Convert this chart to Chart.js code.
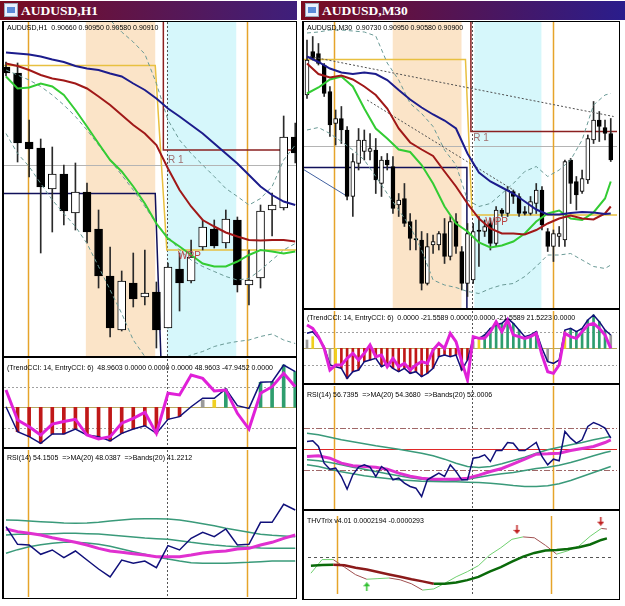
<!DOCTYPE html>
<html>
<head>
<meta charset="utf-8">
<script src="https://cdn.jsdelivr.net/npm/chart.js@4.4.1/dist/chart.umd.min.js"></script>
<style>
  body { margin: 0; width: 625px; height: 606px; background: #fff; position: relative; overflow: hidden; font-family: "Liberation Sans", Arial, sans-serif; }
  .title { position: absolute; top: 1px; height: 19px; color: #fff; font: bold 13.5px "Liberation Serif", serif; line-height: 20px; box-sizing: border-box; }
  .icon { position: absolute; top: 3px; width: 12px; height: 12px; background: #e8f0ff; border: 1px solid #9ab; }
  .icon:after { content: ""; position: absolute; left: 2px; top: 3px; width: 8px; height: 6px; background: #5a8ad8; }
  .frame { position: absolute; border: 1px solid #000; border-left-width: 2px; box-sizing: border-box; }
  .sep { position: absolute; height: 2px; background: #000; }
  .hdr { position: absolute; font-size: 7px; line-height: 8px; white-space: pre; color: #000; z-index: 5; }
  canvas { position: absolute; }
</style>
</head>
<body>

<div class="title" style="left:0;width:297px;background:linear-gradient(to right,#7a0c20,#3e1f7c);padding-left:21px">AUDUSD,H1</div>
<div class="icon" style="left:4px"></div>
<div class="title" style="left:301px;width:324px;background:linear-gradient(to right,#7a0c20,#2a1d8c);padding-left:21px">AUDUSD,M30</div>
<div class="icon" style="left:305px"></div>

<div class="frame" style="left:2px;top:21px;width:295px;height:578px"></div>
<div class="frame" style="left:302px;top:21px;width:318px;height:579px"></div>

<div class="sep" style="left:2px;top:356px;width:295px"></div>
<div class="sep" style="left:2px;top:447px;width:295px"></div>
<div class="sep" style="left:302px;top:308px;width:318px"></div>
<div class="sep" style="left:302px;top:383px;width:318px"></div>
<div class="sep" style="left:302px;top:509px;width:318px"></div>

<div class="hdr" style="left:7px;top:24px">AUDUSD,H1  0.90660 0.90950 0.90580 0.90910</div>
<div class="hdr" style="left:307px;top:24px">AUDUSD,M30  0.90730 0.90950 0.90580 0.90900</div>
<div class="hdr" style="left:7px;top:364px">(TrendCCI: 14, EntryCCI: 6)  48.9603 0.0000 0.0000 0.0000 48.9603 -47.9452 0.0000</div>
<div class="hdr" style="left:307px;top:314px">(TrendCCI: 14, EntryCCI: 6)  0.0000 -21.5589 0.0000 0.0000 -21.5589 21.5223 0.0000</div>
<div class="hdr" style="left:7px;top:454px">RSI(14) 54.1505  =&gt;MA(20) 48.0387  =&gt;Bands(20) 41.2212</div>
<div class="hdr" style="left:307px;top:391px">RSI(14) 56.7395  =&gt;MA(20) 54.3680  =&gt;Bands(20) 52.0006</div>
<div class="hdr" style="left:307px;top:517px">THVTrix v4.01 0.0002194 -0.0000293</div>

<script>
// ---- AUDUSD H1 (janela esquerda) ----
const h1Open  = [0.91056,0.91044,0.90906,0.90894,0.90812,0.90842,0.90764,0.90806,0.90732,0.90638,0.90530,0.90624,0.90596,0.90606,0.90534,0.90652,0.90628,0.90696,0.90732,0.90704,0.90750,0.90620,0.90634,0.90770,0.90774,0.90916];
const h1High  = [0.91066,0.91064,0.90950,0.90912,0.90896,0.90860,0.90864,0.90824,0.90770,0.90696,0.90648,0.90684,0.90690,0.90626,0.90664,0.90684,0.90710,0.90750,0.90750,0.90770,0.90756,0.90690,0.90780,0.90804,0.90958,0.90944];
const h1Low   = [0.91038,0.90866,0.90836,0.90684,0.90726,0.90740,0.90730,0.90704,0.90614,0.90516,0.90528,0.90576,0.90580,0.90494,0.90534,0.90568,0.90624,0.90690,0.90694,0.90694,0.90606,0.90580,0.90614,0.90718,0.90770,0.90864];
const h1Close = [0.91044,0.90904,0.90892,0.90816,0.90842,0.90768,0.90806,0.90726,0.90638,0.90534,0.90628,0.90592,0.90604,0.90530,0.90656,0.90624,0.90676,0.90736,0.90698,0.90752,0.90620,0.90630,0.90768,0.90780,0.90916,0.90884];
const h1MaBlue  = [0.91085,0.91083,0.91081,0.91077,0.91071,0.91066,0.91058,0.91053,0.91050,0.91043,0.91037,0.91023,0.91010,0.90993,0.90973,0.90957,0.90940,0.90923,0.90903,0.90883,0.90863,0.90840,0.90817,0.90800,0.90787,0.90780];
const h1MaRed   = [0.91063,0.91058,0.91050,0.91040,0.91033,0.91029,0.91023,0.91013,0.90997,0.90980,0.90960,0.90940,0.90923,0.90900,0.90853,0.90810,0.90777,0.90750,0.90737,0.90725,0.90717,0.90710,0.90709,0.90710,0.90710,0.90707];
const h1MaGreen = [0.91037,0.91013,0.91015,0.91023,0.91017,0.91000,0.90970,0.90937,0.90903,0.90870,0.90847,0.90817,0.90783,0.90743,0.90713,0.90697,0.90680,0.90663,0.90657,0.90657,0.90667,0.90680,0.90690,0.90687,0.90683,0.90687];
const h1BandUp  = [0.91170,0.91180,0.91190,0.91200,0.91210,0.91210,0.91200,0.91186,0.91170,0.91150,0.91126,0.91106,0.91082,0.91023,0.90950,0.90910,0.90883,0.90860,0.90837,0.90813,0.90797,0.90780,0.90793,0.90817,0.90870,0.90900];
const h1BandMid = [0.91050,0.91040,0.91030,0.91017,0.91000,0.90980,0.90957,0.90930,0.90900,0.90870,0.90840,0.90810,0.90777,0.90743,0.90717,0.90690,0.90670,0.90657,0.90647,0.90637,0.90630,0.90633,0.90650,0.90670,0.90690,0.90703];
const h1BandLow = [0.90923,0.90883,0.90857,0.90823,0.90790,0.90763,0.90737,0.90703,0.90657,0.90610,0.90563,0.90510,0.90477,0.90458,0.90450,0.90470,0.90480,0.90487,0.90497,0.90503,0.90507,0.90510,0.90517,0.90522,0.90510,0.90503];
const h1Pivot = [[-0.5,0.90803],[12.9,0.90803],[13.5,0.90400]];
const h1Wpp   = [[-0.5,0.91059],[12.9,0.91059],[13.9,0.90690],[25.5,0.90690]];
const h1R1    = [[13.6,0.91250],[13.6,0.90890],[25.5,0.90890]];
const h1GrayLevel = 0.90860;
const h1Peach = [6.9, 12.9];
const h1Cyan  = [13.9, 19.9];
const h1Orange = [1.9, 20.8];
const h1DayLine = 13.9;

const h1TrendCci = [3,-118,-142,-174,-129,-129,-105,-134,-142,-163,-126,-105,-89,-126,-58,-45,3,44,44,89,8,-5,121,124,205,173];
const h1EntryCci = [84,-61,-94,-134,-81,-69,-58,-134,-153,-142,-77,-53,-24,-126,68,60,156,140,79,84,-29,-105,68,100,165,100];
const h1Hist     = [null,-118,-142,-174,-129,-129,-105,-134,-142,-163,-126,-105,-89,-126,-58,-45,null,35,35,89,null,null,121,124,205,173];
const h1HistCol  = 'nrrrrrrrrrrrrrrrnsygnngggg'.split('');

const h1Rsi     = [50.08,45.76,45.6,43.32,44.38,42.5,44.13,41.93,39.73,37.78,41.93,41.12,41.69,40.06,45.44,44.38,47.23,48.7,47.64,49.51,45.6,45.76,51.14,51.14,55.54,54.15];
const h1RsiMa   = [49.51,48.86,48.45,48.04,47.39,46.82,46.25,45.6,44.78,44.13,43.81,43.48,43.15,42.75,42.75,42.75,43.15,43.64,43.97,44.13,44.62,44.78,45.6,46.25,47.23,48.04];
const h1RsiUp   = [51.71,51.63,51.46,51.30,51.14,50.98,50.89,50.98,51.14,51.46,51.71,51.95,52.04,52.04,51.95,51.71,51.30,50.81,50.32,49.67,49.18,48.69,48.21,47.96,47.80,47.63];
const h1RsiMid  = [48.04,48.21,48.21,48.29,48.37,48.45,48.45,48.37,48.29,48.04,47.80,47.55,47.31,47.15,46.98,46.66,46.25,45.92,45.6,45.36,45.19,45.03,44.87,44.78,44.78,44.78];
const h1RsiLow  = [43.56,44.46,45.19,45.68,46.01,46.25,46.25,46.09,45.76,45.27,44.62,43.97,43.32,42.67,42.18,41.69,41.28,41.12,41.12,41.12,41.28,41.36,41.53,41.69,41.69,41.69];

// ---- AUDUSD M30 (janela direita) ----
const m30Open  = [0.91010,0.91097,0.91093,0.91070,0.91017,0.90953,0.90963,0.90940,0.90807,0.90873,0.90897,0.90897,0.90900,0.90833,0.90880,0.90867,0.90790,0.90803,0.90757,0.90723,0.90720,0.90633,0.90710,0.90710,0.90733,0.90687,0.90757,0.90697,0.90633,0.90640,0.90740,0.90737,0.90753,0.90713,0.90780,0.90773,0.90817,0.90807,0.90777,0.90773,0.90793,0.90820,0.90737,0.90707,0.90727,0.90720,0.90880,0.90837,0.90817,0.90840,0.90920,0.90960,0.90945,0.90933];
const m30High  = [0.91120,0.91127,0.91113,0.91073,0.91027,0.90980,0.90987,0.90947,0.90893,0.90943,0.90940,0.90933,0.90923,0.90887,0.90893,0.90887,0.90813,0.90833,0.90773,0.90760,0.90737,0.90733,0.90730,0.90737,0.90763,0.90767,0.90773,0.90707,0.90753,0.90753,0.90767,0.90760,0.90763,0.90787,0.90783,0.90827,0.90820,0.90813,0.90787,0.90807,0.90833,0.90827,0.90743,0.90740,0.90747,0.90880,0.90883,0.90847,0.90860,0.90930,0.90997,0.90977,0.90960,0.90963];
const m30Low   = [0.91003,0.91080,0.91070,0.91007,0.90927,0.90910,0.90913,0.90800,0.90767,0.90860,0.90880,0.90880,0.90813,0.90807,0.90860,0.90773,0.90767,0.90747,0.90700,0.90700,0.90620,0.90630,0.90693,0.90700,0.90673,0.90680,0.90693,0.90620,0.90607,0.90633,0.90667,0.90727,0.90700,0.90707,0.90767,0.90767,0.90793,0.90767,0.90770,0.90770,0.90773,0.90740,0.90697,0.90677,0.90707,0.90707,0.90793,0.90780,0.90813,0.90833,0.90913,0.90917,0.90920,0.90877];
const m30Close = [0.91080,0.91083,0.91073,0.91013,0.90950,0.90963,0.90940,0.90807,0.90877,0.90920,0.90920,0.90903,0.90840,0.90880,0.90870,0.90783,0.90800,0.90753,0.90723,0.90720,0.90633,0.90707,0.90717,0.90733,0.90687,0.90757,0.90707,0.90633,0.90733,0.90737,0.90737,0.90747,0.90713,0.90780,0.90773,0.90820,0.90807,0.90773,0.90773,0.90797,0.90820,0.90750,0.90707,0.90733,0.90733,0.90877,0.90833,0.90810,0.90843,0.90923,0.90960,0.90947,0.90933,0.90880];
// linhas lidas a cada 2 barras
const m30Samp    = [0,2,4,6,8,10,12,14,16,18,20,22,24,26,28,30,32,34,36,38,40,42,44,46,48,50,52,53];
const m30MaBlue  = [0.91087,0.91076,0.91063,0.91055,0.91052,0.91055,0.91052,0.91040,0.91020,0.91001,0.90985,0.90971,0.90959,0.90943,0.90893,0.90855,0.90837,0.90825,0.90813,0.90797,0.90781,0.90771,0.90771,0.90774,0.90776,0.90775,0.90772,0.90773];
const m30MaRed   = [0.91073,0.91052,0.91045,0.91049,0.91041,0.91027,0.91010,0.90983,0.90943,0.90915,0.90901,0.90888,0.90857,0.90827,0.90793,0.90763,0.90743,0.90733,0.90733,0.90731,0.90740,0.90753,0.90763,0.90769,0.90763,0.90761,0.90773,0.90787];
const m30MaGreen = [0.91013,0.91025,0.91041,0.91047,0.91027,0.90983,0.90943,0.90923,0.90901,0.90896,0.90870,0.90833,0.90787,0.90753,0.90737,0.90715,0.90705,0.90709,0.90717,0.90733,0.90757,0.90773,0.90779,0.90763,0.90760,0.90775,0.90803,0.90837];
const m30BandUp  = [0.91134,0.91136,0.91140,0.91140,0.91138,0.91136,0.91128,0.91074,0.91040,0.90993,0.90973,0.90947,0.90900,0.90870,0.90800,0.90787,0.90793,0.90813,0.90833,0.90857,0.90867,0.90847,0.90860,0.90880,0.90920,0.90990,0.91010,0.91013];
const m30BandLow = [0.90940,0.90945,0.90933,0.90917,0.90900,0.90880,0.90847,0.90813,0.90780,0.90747,0.90700,0.90640,0.90630,0.90625,0.90617,0.90613,0.90623,0.90630,0.90633,0.90647,0.90667,0.90690,0.90690,0.90693,0.90680,0.90667,0.90663,0.90670];
const m30TrendHi  = [[0.5,0.91087],[53.5,0.90967]];
const m30TrendLo  = [[10.5,0.91000],[36,0.90820]];
const m30TrendOld = [[-0.6,0.90861],[7.07,0.90807]];
const m30Pivot = [[-0.6,0.90865],[27.9,0.90865],[27.9,0.90500]];
const m30Wpp   = [[-0.6,0.91081],[27.65,0.91081],[28.8,0.90770],[54.2,0.90770]];
const m30R1    = [[28.6,0.91250],[28.6,0.90937],[54.2,0.90937]];
const m30GrayLevel = 0.90908;
const m30Peach = [14.96, 26.96];
const m30Cyan  = [29.2, 40.9];
const m30Orange = [4.7, 42.96];
const m30DayLine = 28.8;

const m30TrendCci = [90,100,60,10,-100,-110,-120,-180,-140,-130,-80,-70,-60,-110,-90,-120,-140,-120,-150,-140,-170,-150,-120,-50,-40,-50,-40,-130,-70,60,60,80,120,140,150,180,150,110,70,80,100,0,-80,-90,-70,110,120,100,120,170,200,160,110,80];
const m30EntryCci = [140,120,70,0,-130,-100,-100,-60,-30,-70,-30,20,-50,-40,-110,-60,-110,-90,-130,-100,-80,-90,-10,30,0,90,40,-80,-190,70,60,60,100,160,100,170,80,70,60,70,90,-40,-140,-150,-100,90,70,60,100,140,150,120,80,0];
const m30Hist     = [50,70,null,null,-100,-110,-120,-180,-140,-130,-80,-70,-60,-110,-90,-120,-140,-120,-150,-140,-170,-150,-120,-50,-40,-50,-40,-130,-70,40,60,80,120,140,150,180,150,110,70,80,100,null,-80,-90,null,100,120,100,120,170,200,160,110,80];
const m30HistCol  = 'synnsyrrrrrrrrrrrrrrrrrrrrrrrsyggggggggggnsnyyggggggg'.split('');

const m30Rsi    = [53.6,53.92,51.2,43.2,40.32,40.8,36.8,30.72,37.6,41.28,42.4,41.28,36.8,41.6,39.68,35.2,36,33.6,32,31.2,27.2,35.2,36.8,38.4,36.8,42.4,39.2,35.2,35.2,45.6,46.08,47.2,44,49.28,49.28,53.12,52.8,49.28,49.28,51.2,53.12,46.4,42.4,45.12,44.32,58.4,55.2,52.8,54.4,60.8,62.72,61.6,60,55.2];
const m30RsiMa  = [46.4,46.72,45.6,43.2,41.92,41.6,41.28,40.32,38.4,36.96,36,35.52,35.52,35.52,36,37.44,39.2,40.64,42.88,45.12,47.52,47.68,48,49.28,50.24,51.2,53.12,54.4];
const m30RsiUp  = [57.6,56.8,55.68,54.4,53.44,52.48,51.52,50.72,49.92,48.96,48,46.72,45.12,43.2,41.6,41.12,41.6,42.88,44.48,46.08,48,49.6,50.88,52,53.12,54.4,55.52,56];
const m30RsiMid = [44.8,44.32,43.52,42.4,41.28,40.32,39.2,38.08,37.12,36.16,35.52,34.88,34.56,34.88,35.52,36.48,37.44,38.08,38.72,39.68,40.64,41.28,42.24,43.52,45.12,46.72,48.32,48.96];
const m30RsiLow = [42.4,41.6,40.32,39.04,38.08,37.12,36.48,35.84,35.2,34.88,34.56,34.4,34.24,34.24,34.08,33.92,33.6,33.12,32.48,32,32,32.32,33.28,34.88,36.8,38.72,40.64,41.6];

const m30Trix   = [-0.000102,-0.000095,-0.000092,-0.000099,-0.000126,-0.000146,-0.000173,-0.000201,-0.000228,-0.000255,-0.000279,-0.000306,-0.000306,-0.000292,-0.000265,-0.000228,-0.000170,-0.000119,-0.000058,0,0.000041,0.000068,0.000075,0.000085,0.000105,0.000136,0.000187,0.000204];
const m30TrixSig = [-0.000187,-0.000034,-0.000034,-0.000119,-0.000204,-0.000255,-0.000248,-0.000241,-0.000262,-0.000306,-0.000377,-0.000364,-0.000299,-0.000228,-0.000170,-0.000102,0.000017,0.000099,0.000194,0.000221,0.000211,0.000126,0.000027,0.000065,0.000119,0.000228,0.000316,0.000309];
const m30TrixUpArrows   = [[10, -0.000340]];
const m30TrixDownArrows = [[36.9, 0.000306], [51.9, 0.000398]];

// cores
const PEACH = '#fbe4c8', CYAN = '#d6f7fb', ORANGE = '#e6a42a';
const histColors = { r: '#c01818', g: '#2e9e6e', s: '#9a9a9a', y: '#f0d020', n: 'rgba(0,0,0,0)' };

Chart.defaults.font.family = '"Liberation Sans", Arial, sans-serif';

// plugin para sessões, níveis, linhas verticais e textos
function makeDecor(d) {
  return {
    id: 'decor',
    beforeDatasetsDraw(chart) {
      const { ctx, chartArea: a, scales: { x, y } } = chart;
      ctx.save();
      (d.boxes || []).forEach(b => {
        const x0 = x.getPixelForValue(b[0]), x1 = x.getPixelForValue(b[1]);
        ctx.fillStyle = b[2];
        ctx.fillRect(x0, a.top, x1 - x0, a.bottom - a.top);
      });
      (d.levels || []).forEach(l => {
        const py = Math.round(y.getPixelForValue(l[0])) + 0.5;
        ctx.strokeStyle = l[1]; ctx.lineWidth = 1; ctx.setLineDash(l[2] || []);
        ctx.beginPath(); ctx.moveTo(a.left, py); ctx.lineTo(a.right, py); ctx.stroke();
      });
      (d.vlines || []).forEach(v => {
        const px = Math.round(x.getPixelForValue(v[0])) + 0.5;
        ctx.strokeStyle = v[1]; ctx.lineWidth = v[2]; ctx.setLineDash(v[3] || []);
        ctx.beginPath(); ctx.moveTo(px, a.top); ctx.lineTo(px, a.bottom); ctx.stroke();
      });
      ctx.restore();
    },
    afterDatasetsDraw(chart) {
      const { ctx, scales: { x, y } } = chart;
      ctx.save();
      ctx.font = '10px "Liberation Sans", Arial, sans-serif';
      ctx.textBaseline = 'middle';
      (d.texts || []).forEach(t => {
        ctx.fillStyle = t[3];
        ctx.fillText(t[2], x.getPixelForValue(t[0]), y.getPixelForValue(t[1]));
      });
      ctx.restore();
    }
  };
}

function pts(xs, ys) { return ys.map((v, k) => ({ x: xs[k], y: v })); }
function pairs(arr) { return arr.map(p => ({ x: p[0], y: p[1] })); }
function seq(n) { return Array.from({ length: n }, (_, i) => i); }

function line(data, color, width, extra) {
  return Object.assign({ type: 'line', data, borderColor: color, borderWidth: width, pointRadius: 0, fill: false, tension: 0, order: 0 }, extra || {});
}

function candles(o, h, l, c, w) {
  const xs = seq(o.length);
  return [
    { type: 'bar', data: xs.map(i => ({ x: i, y: [l[i], h[i]] })), backgroundColor: '#2a2a2a', barThickness: 1, grouped: false, order: 6 },
    { type: 'bar', data: xs.map(i => ({ x: i, y: [o[i], c[i]] })),
      backgroundColor: xs.map(i => c[i] >= o[i] ? '#ffffff' : '#000000'),
      borderColor: '#000', borderWidth: 1, borderSkipped: false, barThickness: w, grouped: false, order: 5 }
  ];
}

function hist(vals, cols, w) {
  return { type: 'bar', data: vals.map((v, i) => ({ x: i, y: v })), backgroundColor: cols.map(k => histColors[k]),
    barThickness: w, grouped: false, order: 3 };
}

function arrowImg(color, up) {
  const c = document.createElement('canvas');
  c.width = 7; c.height = 9;
  const g = c.getContext('2d');
  g.fillStyle = color; g.strokeStyle = color; g.lineWidth = 1.5;
  g.beginPath();
  if (up) { g.moveTo(3.5, 0); g.lineTo(7, 4); g.lineTo(0, 4); } else { g.moveTo(3.5, 9); g.lineTo(7, 5); g.lineTo(0, 5); }
  g.fill();
  g.beginPath(); g.moveTo(3.5, up ? 3 : 0); g.lineTo(3.5, up ? 9 : 6); g.stroke();
  return c;
}

function pane(box, xr, yr, datasets, decor) {
  const cv = document.createElement('canvas');
  cv.width = box[2]; cv.height = box[3];
  cv.style.left = box[0] + 'px'; cv.style.top = box[1] + 'px';
  document.body.appendChild(cv);
  new Chart(cv.getContext('2d'), {
    type: 'bar',
    data: { datasets },
    options: {
      responsive: false, animation: false, devicePixelRatio: 1,
      layout: { padding: 0 },
      plugins: { legend: { display: false }, tooltip: { enabled: false } },
      scales: {
        x: { type: 'linear', min: xr[0], max: xr[1], display: false, offset: false },
        y: { type: 'linear', min: yr[0], max: yr[1], display: false }
      }
    },
    plugins: [makeDecor(decor)]
  });
}

const dashBand = { borderDash: [4, 3], order: 1 };
const h1X = [-0.173, 25.066];
const m30X = [-0.522, 54.09];
const h1Idx = seq(h1Open.length);
const m30Idx = seq(m30Open.length);

// ---- painéis H1 ----
const h1V = [[h1Orange[0], ORANGE, 1.5], [h1Orange[1], ORANGE, 1.5], [h1DayLine, '#555', 1, [2, 2]]];

pane([4, 22, 292, 334], h1X, [0.90478, 0.91146], [
  line(pairs(h1Pivot), '#10105a', 1.5, { order: 8 }),
  line(pairs(h1Wpp), '#e8c040', 1.5, { order: 8 }),
  line(pairs(h1R1), '#8b2020', 1.5, { order: 8 }),
  ...candles(h1Open, h1High, h1Low, h1Close, 8),
  line(pts(h1Idx, h1BandUp), '#6a9a96', 1, dashBand),
  line(pts(h1Idx, h1BandMid), '#6a9a96', 1, dashBand),
  line(pts(h1Idx, h1BandLow), '#6a9a96', 1, dashBand),
  line(pts(h1Idx, h1MaBlue), '#1c1c8c', 2),
  line(pts(h1Idx, h1MaRed), '#a01818', 2),
  line(pts(h1Idx, h1MaGreen), '#33cc33', 2)
], {
  boxes: [[h1Peach[0], h1Peach[1], PEACH], [h1Cyan[0], h1Cyan[1], CYAN]],
  levels: [[h1GrayLevel, '#b4b4b4']],
  vlines: h1V,
  texts: [[14.0, 0.90870, 'R 1', '#a07070'], [14.87, 0.90677, 'WPP', '#b84040']]
});

pane([4, 359, 292, 88], h1X, [-192, 234], [
  hist(h1Hist, h1HistCol, 3),
  line(pts(h1Idx, h1TrendCci), '#10107a', 1.5, { order: 1 }),
  line(pts(h1Idx, h1EntryCci), '#e020d8', 3)
], {
  levels: [[0, '#b8a860'], [100, '#a0a0a0', [2, 2]], [-100, '#a0a0a0', [2, 2]]],
  vlines: h1V
});

pane([4, 450, 292, 147], h1X, [32.89, 68.81], [
  line(pts(h1Idx, h1RsiUp), '#3a9a7a', 1.5, { order: 2 }),
  line(pts(h1Idx, h1RsiMid), '#3a9a7a', 1.5, { order: 2 }),
  line(pts(h1Idx, h1RsiLow), '#3a9a7a', 1.5, { order: 2 }),
  line(pts(h1Idx, h1RsiMa), '#e030d0', 3, { order: 1 }),
  line(pts(h1Idx, h1Rsi), '#10107a', 1.5)
], { vlines: h1V });

// ---- painéis M30 ----
const m30V = [[m30Orange[0], ORANGE, 1.5], [m30Orange[1], ORANGE, 1.5], [m30DayLine, '#555', 1, [2, 2]]];

pane([304, 22, 313, 286], m30X, [0.90584, 0.91156], [
  line(pairs(m30Pivot), '#10105a', 1.5, { order: 8 }),
  line(pairs(m30Wpp), '#e8c040', 1.5, { order: 8 }),
  line(pairs(m30R1), '#8b2020', 1.5, { order: 8 }),
  line(pairs(m30TrendOld), '#4060a0', 1, { order: 8 }),
  ...candles(m30Open, m30High, m30Low, m30Close, 4),
  line(pairs(m30TrendHi), '#505050', 1, { borderDash: [2, 2], order: 1 }),
  line(pairs(m30TrendLo), '#505050', 1, { borderDash: [2, 2], order: 1 }),
  line(pts(m30Samp, m30BandUp), '#6a9a96', 1, dashBand),
  line(pts(m30Samp, m30BandLow), '#6a9a96', 1, dashBand),
  line(pts(m30Samp, m30MaBlue), '#1c1c8c', 2),
  line(pts(m30Samp, m30MaRed), '#a01818', 2),
  line(pts(m30Samp, m30MaGreen), '#33cc33', 2)
], {
  boxes: [[m30Peach[0], m30Peach[1], PEACH], [m30Cyan[0], m30Cyan[1], CYAN]],
  levels: [[m30GrayLevel, '#b4b4b4']],
  vlines: m30V,
  texts: [[29.0, 0.90924, 'R 1', '#a07070'], [31.1, 0.90756, 'WPP', '#b84040']]
});

pane([304, 311, 313, 72], m30X, [-208, 224], [
  hist(m30Hist, m30HistCol, 2),
  line(pts(m30Idx, m30TrendCci), '#10107a', 1.5, { order: 1 }),
  line(pts(m30Idx, m30EntryCci), '#e020d8', 3)
], {
  levels: [[0, '#b8a860'], [100, '#a0a0a0', [2, 2]], [-100, '#a0a0a0', [2, 2]]],
  vlines: m30V
});

pane([304, 386, 313, 123], m30X, [21.2, 80.24], [
  line(pts(m30Samp, m30RsiUp), '#3a9a7a', 1.5, { order: 2 }),
  line(pts(m30Samp, m30RsiMid), '#3a9a7a', 1.5, { order: 2 }),
  line(pts(m30Samp, m30RsiLow), '#3a9a7a', 1.5, { order: 2 }),
  line(pts(m30Samp, m30RsiMa), '#e030d0', 3, { order: 1 }),
  line(pts(m30Idx, m30Rsi), '#10107a', 1.5)
], {
  levels: [[50, '#e02828'], [60, '#a06868', [6, 2, 2, 2]], [40, '#a06868', [6, 2, 2, 2]]],
  vlines: m30V
});

pane([304, 512, 313, 86], m30X, [-0.000421, 0.000456], [
  line(pts(m30Samp, m30TrixSig), '#70d070', 1, { order: 1,
    segment: { borderColor: c => c.p1.parsed.y >= c.p0.parsed.y ? '#70d070' : '#a05050' } }),
  line(pts(m30Samp, m30Trix), '#0a6a0a', 2.5, {
    segment: { borderColor: c => c.p1.parsed.y >= c.p0.parsed.y ? '#0a6a0a' : '#8b1a1a' } }),
  line(pairs(m30TrixUpArrows), '#30c030', 0, { showLine: false, pointRadius: 4, pointStyle: arrowImg('#30c030', true) }),
  line(pairs(m30TrixDownArrows), '#c02020', 0, { showLine: false, pointRadius: 4, pointStyle: arrowImg('#c02020', false) })
], {
  levels: [[0, '#555', [3, 3]]],
  vlines: m30V
});
</script>
</body>
</html>
